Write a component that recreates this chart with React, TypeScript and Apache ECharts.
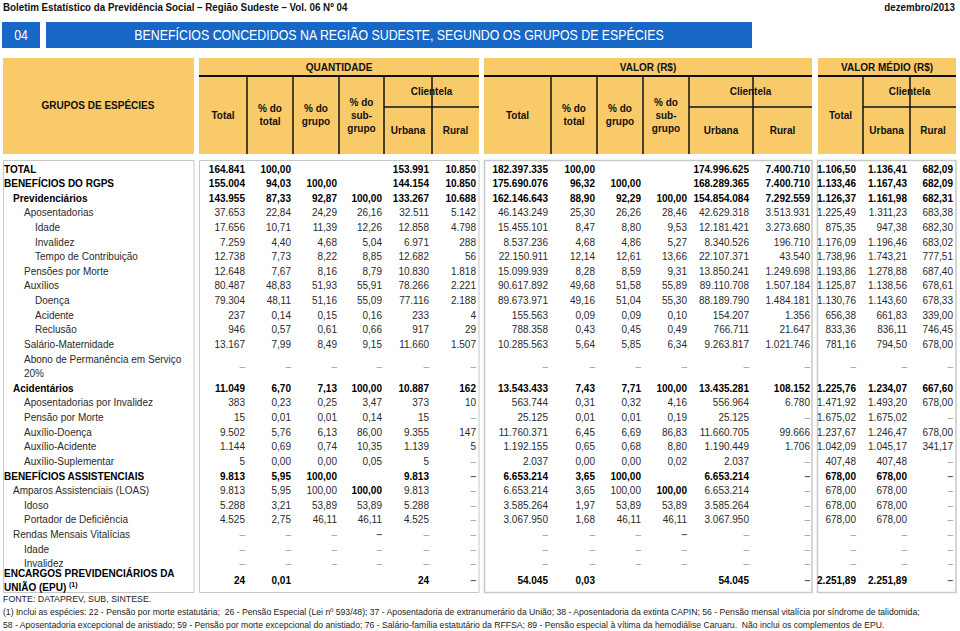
import React, { useEffect, useRef } from 'react';
import * as echarts from 'echarts';

// ---------- DATA ----------
const rowLabels = [
  'TOTAL', 'BENEFÍCIOS DO RGPS', 'Previdenciários', 'Aposentadorias', 'Idade', 'Invalidez',
  'Tempo de Contribuição', 'Pensões por Morte', 'Auxílios', 'Doença', 'Acidente', 'Reclusão',
  'Salário-Maternidade', 'Abono de Permanência em Serviço\n20%', 'Acidentários',
  'Aposentadorias por Invalidez', 'Pensão por Morte', 'Auxílio-Doença', 'Auxílio-Acidente',
  'Auxílio-Suplementar', 'BENEFÍCIOS ASSISTENCIAIS', 'Amparos Assistenciais (LOAS)', 'Idoso',
  'Portador de Deficiência', 'Rendas Mensais Vitalícias', 'Idade', 'Invalidez',
  'ENCARGOS PREVIDENCIÁRIOS DA\nUNIÃO (EPU) {s|(1)}',
];
const rowLevels = [0, 0, 1, 2, 3, 3, 3, 2, 2, 3, 3, 3, 2, 2, 1, 2, 2, 2, 2, 2, 0, 1, 2, 2, 1, 2, 2, 0];
const rowBold = [1, 1, 1, 0, 0, 0, 0, 0, 0, 0, 0, 0, 0, 0, 1, 0, 0, 0, 0, 0, 1, 0, 0, 0, 0, 0, 0, 1];

const D = '–';
const qtdTotal = ['164.841', '155.004', '143.955', '37.653', '17.656', '7.259', '12.738', '12.648', '80.487', '79.304', '237', '946', '13.167', D, '11.049', '383', '15', '9.502', '1.144', '5', '9.813', '9.813', '5.288', '4.525', D, D, D, '24'];
const qtdPctTotal = ['100,00', '94,03', '87,33', '22,84', '10,71', '4,40', '7,73', '7,67', '48,83', '48,11', '0,14', '0,57', '7,99', D, '6,70', '0,23', '0,01', '5,76', '0,69', '0,00', '5,95', '5,95', '3,21', '2,75', D, D, D, '0,01'];
const qtdPctGrupo = ['', '100,00', '92,87', '24,29', '11,39', '4,68', '8,22', '8,16', '51,93', '51,16', '0,15', '0,61', '8,49', D, '7,13', '0,25', '0,01', '6,13', '0,74', '0,00', '100,00', '100,00', '53,89', '46,11', D, D, D, ''];
const qtdPctSub = ['', '', '100,00', '26,16', '12,26', '5,04', '8,85', '8,79', '55,91', '55,09', '0,16', '0,66', '9,15', D, '100,00', '3,47', '0,14', '86,00', '10,35', '0,05', '', '100,00', '53,89', '46,11', D, D, D, ''];
const qtdUrbana = ['153.991', '144.154', '133.267', '32.511', '12.858', '6.971', '12.682', '10.830', '78.266', '77.116', '233', '917', '11.660', D, '10.887', '373', '15', '9.355', '1.139', '5', '9.813', '9.813', '5.288', '4.525', D, D, D, '24'];
const qtdRural = ['10.850', '10.850', '10.688', '5.142', '4.798', '288', '56', '1.818', '2.221', '2.188', '4', '29', '1.507', D, '162', '10', D, '147', '5', D, D, D, D, D, D, D, D, D];

const valTotal = ['182.397.335', '175.690.076', '162.146.643', '46.143.249', '15.455.101', '8.537.236', '22.150.911', '15.099.939', '90.617.892', '89.673.971', '155.563', '788.358', '10.285.563', D, '13.543.433', '563.744', '25.125', '11.760.371', '1.192.155', '2.037', '6.653.214', '6.653.214', '3.585.264', '3.067.950', D, D, D, '54.045'];
const valPctTotal = ['100,00', '96,32', '88,90', '25,30', '8,47', '4,68', '12,14', '8,28', '49,68', '49,16', '0,09', '0,43', '5,64', D, '7,43', '0,31', '0,01', '6,45', '0,65', '0,00', '3,65', '3,65', '1,97', '1,68', D, D, D, '0,03'];
const valPctGrupo = ['', '100,00', '92,29', '26,26', '8,80', '4,86', '12,61', '8,59', '51,58', '51,04', '0,09', '0,45', '5,85', D, '7,71', '0,32', '0,01', '6,69', '0,68', '0,00', '100,00', '100,00', '53,89', '46,11', D, D, D, ''];
const valPctSub = ['', '', '100,00', '28,46', '9,53', '5,27', '13,66', '9,31', '55,89', '55,30', '0,10', '0,49', '6,34', D, '100,00', '4,16', '0,19', '86,83', '8,80', '0,02', '', '100,00', '53,89', '46,11', D, D, D, ''];
const valUrbana = ['174.996.625', '168.289.365', '154.854.084', '42.629.318', '12.181.421', '8.340.526', '22.107.371', '13.850.241', '89.110.708', '88.189.790', '154.207', '766.711', '9.263.817', D, '13.435.281', '556.964', '25.125', '11.660.705', '1.190.449', '2.037', '6.653.214', '6.653.214', '3.585.264', '3.067.950', D, D, D, '54.045'];
const valRural = ['7.400.710', '7.400.710', '7.292.559', '3.513.931', '3.273.680', '196.710', '43.540', '1.249.698', '1.507.184', '1.484.181', '1.356', '21.647', '1.021.746', D, '108.152', '6.780', D, '99.666', '1.706', D, D, D, D, D, D, D, D, D];

const medTotal = ['1.106,50', '1.133,46', '1.126,37', '1.225,49', '875,35', '1.176,09', '1.738,96', '1.193,86', '1.125,87', '1.130,76', '656,38', '833,36', '781,16', D, '1.225,76', '1.471,92', '1.675,02', '1.237,67', '1.042,09', '407,48', '678,00', '678,00', '678,00', '678,00', D, D, D, '2.251,89'];
const medUrbana = ['1.136,41', '1.167,43', '1.161,98', '1.311,23', '947,38', '1.196,46', '1.743,21', '1.278,88', '1.138,56', '1.143,60', '661,83', '836,11', '794,50', D, '1.234,07', '1.493,20', '1.675,02', '1.246,47', '1.045,17', '407,48', '678,00', '678,00', '678,00', '678,00', D, D, D, '2.251,89'];
const medRural = ['682,09', '682,09', '682,31', '683,38', '682,30', '683,02', '777,51', '687,40', '678,61', '678,33', '339,00', '746,45', '678,00', D, '667,60', '678,00', D, '678,00', '341,17', D, D, D, D, D, D, D, D, D];

// cells shown in bold outside of bold rows: [row, column]
const boldCells = [[21, 3], [21, 9], [24, 3], [24, 9]];

const columns = [qtdTotal, qtdPctTotal, qtdPctGrupo, qtdPctSub, qtdUrbana, qtdRural,
  valTotal, valPctTotal, valPctGrupo, valPctSub, valUrbana, valRural, medTotal, medUrbana, medRural];

// ---------- LAYOUT ----------
const F = "'Liberation Sans', Arial, Helvetica, sans-serif";
const ORANGE = '#F9CA69';
const BLUE = '#1767C6';
const colRight = [245, 291, 337, 382, 429, 476, 548, 595, 641, 687, 749, 810, 856, 907, 953];
const labelX = [4, 13, 24, 35];
const ROW0 = 169;
const RH = 14.62;

function txt(x: number, y: number, text: string, font: string, fill: string, align = 'left', extra: any = {}, scaleX = 1) {
  return {
    type: 'text', x, y, scaleX, silent: true,
    style: { text, font, fill, align, verticalAlign: 'middle', textAlign: align, textVerticalAlign: 'middle', ...extra },
  };
}
function rect(x: number, y: number, w: number, h: number, fill: string, stroke?: string, lw = 1) {
  return { type: 'rect', shape: { x, y, width: w, height: h }, style: { fill, stroke: stroke || 'none', lineWidth: lw }, silent: true };
}
function line(x1: number, y1: number, x2: number, y2: number, w = 1.5, c = '#111') {
  return { type: 'line', shape: { x1, y1, x2, y2 }, style: { stroke: c, lineWidth: w }, silent: true };
}

function buildGraphic() {
  const g: any[] = [];
  g.push(rect(0, 0, 960, 631, '#fff'));
  // top line
  g.push(txt(3, 7, 'Boletim Estatístico da Previdência Social – Região Sudeste – Vol. 06 Nº 04', 'bold 11px ' + F, '#111', 'left', {}, 0.89));
  g.push(txt(955, 7, 'dezembro/2013', 'bold 11px ' + F, '#111', 'right', {}, 0.89));
  // blue title
  g.push(rect(2, 22, 38, 26, BLUE));
  g.push(txt(21, 35, '04', '14px ' + F, '#fff', 'center', {}, 0.88));
  g.push(rect(46, 22, 706, 26, BLUE));
  g.push(txt(399, 35, 'BENEFÍCIOS CONCEDIDOS NA REGIÃO SUDESTE, SEGUNDO OS GRUPOS DE ESPÉCIES', '14px ' + F, '#fff', 'center', {}, 0.885));

  // header panels
  const HB = 'bold 10px ' + F;
  const hy0 = 58, hy1 = 154;
  g.push(rect(3, hy0, 191, hy1 - hy0, ORANGE));
  g.push(txt(98, 105, 'GRUPOS DE ESPÉCIES', HB, '#111', 'center'));

  const groupHeader = (x0: number, x1: number, title: string, vlines: number[], clientX: number) => {
    g.push(rect(x0, hy0, x1 - x0, hy1 - hy0, ORANGE));
    g.push(txt((x0 + x1) / 2, 67, title, HB, '#111', 'center'));
    g.push(line(x0, 76, x1, 76, 2));
    vlines.forEach((vx) => g.push(line(vx, 76, vx, hy1, 1.5)));
    g.push(line(clientX, 107, x1, 107, 1.5));
    return [x0, ...vlines, x1];
  };

  const q = groupHeader(199, 479, 'QUANTIDADE', [247, 293, 339, 384, 432], 384);
  const v = groupHeader(484, 812, 'VALOR (R$)', [551, 597, 643, 689, 753], 689);
  const m = groupHeader(818, 956, 'VALOR MÉDIO (R$)', [863, 910], 863);

  const sixHeads = (c: number[]) => {
    const mid = (i: number) => (c[i] + c[i + 1]) / 2;
    g.push(txt(mid(0), 115, 'Total', HB, '#111', 'center'));
    g.push(txt(mid(1), 115, '% do\ntotal', HB, '#111', 'center', { lineHeight: 13 }));
    g.push(txt(mid(2), 115, '% do\ngrupo', HB, '#111', 'center', { lineHeight: 13 }));
    g.push(txt(mid(3), 115, '% do\nsub-\ngrupo', HB, '#111', 'center', { lineHeight: 13 }));
    g.push(txt((c[4] + c[6]) / 2, 91.5, 'Clientela', HB, '#111', 'center'));
    g.push(txt(mid(4), 130, 'Urbana', HB, '#111', 'center'));
    g.push(txt(mid(5), 130, 'Rural', HB, '#111', 'center'));
  };
  sixHeads(q);
  sixHeads(v);
  g.push(txt((m[0] + m[1]) / 2, 115, 'Total', HB, '#111', 'center'));
  g.push(txt((m[1] + m[3]) / 2, 91.5, 'Clientela', HB, '#111', 'center'));
  g.push(txt((m[1] + m[2]) / 2, 130, 'Urbana', HB, '#111', 'center'));
  g.push(txt((m[2] + m[3]) / 2, 130, 'Rural', HB, '#111', 'center'));

  // body panels
  const by0 = 160, by1 = 592;
  const BS = '#c8c8c8';
  g.push(rect(3.5, by0 + 0.5, 190.5, by1 - by0, '#fff', BS));
  g.push(rect(199.5, by0 + 0.5, 279.5, by1 - by0, '#fff', BS));
  g.push(rect(484.5, by0 + 0.5, 327.5, by1 - by0, '#fff', BS, 1.5));
  g.push(rect(817.5, by0 + 0.5, 138.5, by1 - by0, '#fff', BS, 1.5));

  // rows
  const rowY = (i: number) => {
    if (i < 13) return ROW0 + i * RH;
    if (i === 13) return ROW0 + 13.5 * RH;
    if (i < 27) return ROW0 + (i + 1) * RH;
    return 580.5;
  };
  rowLabels.forEach((lab, i) => {
    const y = rowY(i);
    const bold = rowBold[i] === 1;
    const font = (bold ? 'bold ' : '') + '10px ' + F;
    const extra: any = { lineHeight: i === 27 ? 14 : RH };
    if (i === 27) {
      extra.rich = { s: { font: 'bold 7px ' + F, fill: '#000', padding: [0, 0, 6, 0] } };
    }
    g.push(txt(labelX[rowLevels[i]], y, lab, font, bold ? '#000' : '#2a2a2a', 'left', extra));
    columns.forEach((col, c) => {
      const val = col[i];
      if (!val) return;
      const isDash = val === D;
      const cellBold = bold || boldCells.some(([r, cc]) => r === i && cc === c);
      const f = (cellBold ? 'bold ' : '') + '10px ' + F;
      const fill = isDash ? (cellBold ? '#555' : '#9a9a9a') : cellBold ? '#000' : '#2a2a2a';
      g.push(txt(colRight[c], y, val, f, fill, 'right'));
    });
  });

  // footer
  g.push(txt(3, 599, 'FONTE: DATAPREV, SUB, SINTESE.', '9.5px ' + F, '#222', 'left', {}, 0.93));
  g.push(txt(3, 612, '(1) Inclui as espécies: 22 - Pensão por morte estatutária;  26 - Pensão Especial (Lei nº 593/48); 37 - Aposentadoria de extranumerário da União; 38 - Aposentadoria da extinta CAPIN; 56 - Pensão mensal vitalícia por síndrome de talidomida;', '9px ' + F, '#222', 'left', {}, 0.96));
  g.push(txt(3, 625, '58 - Aposentadoria excepcional de anistiado; 59 - Pensão por morte excepcional do anistiado; 76 - Salário-família estatutário da RFFSA; 89 - Pensão especial à vítima da hemodiálise Caruaru.  Não inclui os complementos de EPU.', '9px ' + F, '#222', 'left', {}, 0.96));
  return g;
}

export default function App() {
  const ref = useRef<HTMLDivElement>(null);
  useEffect(() => {
    if (!ref.current) return;
    const chart = echarts.init(ref.current, undefined, { renderer: 'svg' });
    chart.setOption({ animation: false, backgroundColor: '#fff', graphic: { elements: buildGraphic() } });
    return () => chart.dispose();
  }, []);
  return <div ref={ref} style={{ position: 'fixed', left: 0, top: 0, width: 960, height: 631 }} />;
}
